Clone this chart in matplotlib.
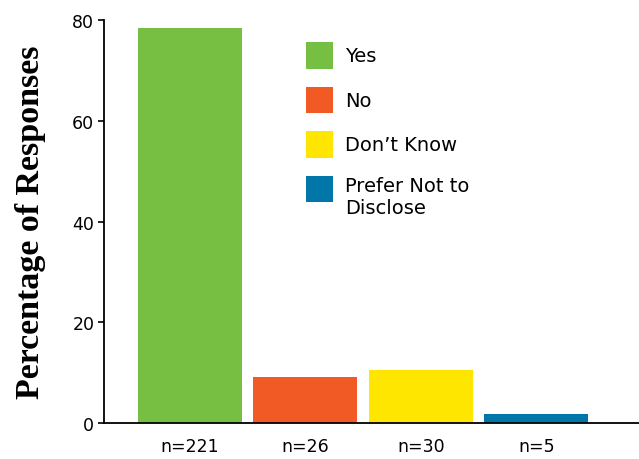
import matplotlib.pyplot as plt
from matplotlib.patches import Patch

categories = ['Yes', 'No', "Don\u2019t Know", 'Prefer Not to\nDisclose']
counts = [221, 26, 30, 5]
percent = [78.4, 9.2, 10.6, 1.8]
xlabels = ['n=%d' % c for c in counts]
colors = ['#76BF43', '#F15A24', '#FFE600', '#0077A8']

plt.rcParams['font.family'] = 'DejaVu Sans'

fig = plt.figure(figsize=(6.39, 4.6), dpi=100)
ax = fig.add_axes([0.1628, 0.0783, 0.8372, 0.876])

x = list(range(len(categories)))
ax.bar(x, percent, width=0.9, color=colors)

ax.set_xlim(-0.745, 3.89)
ax.set_ylim(0, 80)
ax.set_yticks([0, 20, 40, 60, 80])
ax.set_xticks(x)
ax.set_xticklabels(xlabels, fontsize=12.5)
ax.tick_params(axis='x', length=0, pad=10)
ax.tick_params(axis='y', labelsize=12.5, length=4, width=1.2, pad=3)
for s in ['top', 'right']:
    ax.spines[s].set_visible(False)
for s in ['left', 'bottom']:
    ax.spines[s].set_linewidth(1.3)

ax.set_ylabel('Percentage of Responses', family='Liberation Serif',
              fontweight='bold', fontsize=24.5, labelpad=19)

handles = [Patch(facecolor=c) for c in colors]
leg = ax.legend(handles, categories, loc='upper left', bbox_to_anchor=(0.378, 0.945),
                frameon=False, fontsize=14, handlelength=1.39, handleheight=1.72,
                handletextpad=0.62, labelspacing=0.93, borderpad=0, borderaxespad=0)
# text centred on its square, except the two-line entry (square by first line)
for col in leg._legend_handle_box.get_children():
    rows = col.get_children()
    for row in rows:
        row.align = 'center'
    rows[-1].align = 'top'

fig.savefig('out.png', dpi=100)
